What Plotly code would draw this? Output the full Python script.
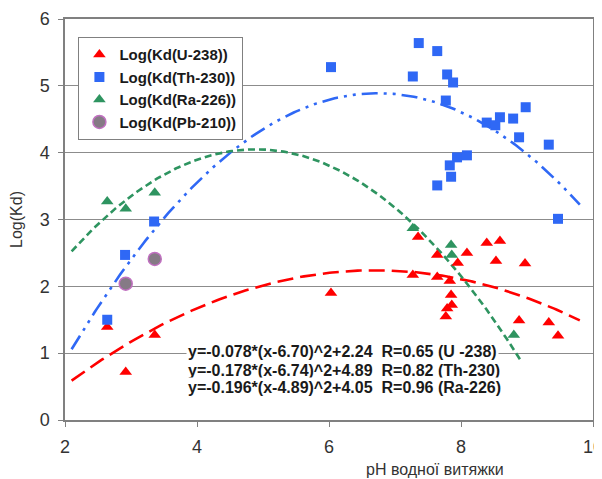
import numpy as np
import plotly.graph_objects as go

# --- data ---
u_x = [2.64, 2.92, 3.36, 6.03, 7.35, 8.39, 8.59, 7.64, 8.09, 7.95, 8.53, 8.97, 7.27, 7.64, 7.83, 7.85, 7.86, 7.79, 7.77, 8.88, 9.33, 9.47]
u_y = [1.39, 0.72, 1.27, 1.90, 2.74, 2.65, 2.68, 2.47, 2.50, 2.35, 2.38, 2.34, 2.17, 2.14, 2.08, 1.87, 1.72, 1.67, 1.55, 1.49, 1.46, 1.26]

th_x = [2.64, 2.91, 3.35, 6.03, 7.36, 7.64, 7.27, 7.79, 7.88, 7.77, 8.39, 8.52, 8.59, 8.79, 8.98, 8.88, 9.33, 9.47, 7.94, 8.09, 7.83, 7.85, 7.64]
th_y = [1.50, 2.47, 2.97, 5.28, 5.64, 5.52, 5.14, 5.17, 5.05, 4.78, 4.45, 4.41, 4.53, 4.51, 4.68, 4.23, 4.12, 3.01, 3.93, 3.96, 3.81, 3.64, 3.51]

ra_x = [2.64, 2.92, 3.36, 7.27, 7.85, 7.86, 8.80]
ra_y = [3.27, 3.16, 3.40, 2.87, 2.62, 2.47, 1.27]

pb_x = [2.92, 3.36]
pb_y = [2.04, 2.41]

# trendline coefficients shown on the chart: y = a*(x-h)^2 + k
u_fit = dict(a=-0.078, h=6.70, k=2.24, x0=2.1, x1=9.8)
th_fit = dict(a=-0.178, h=6.74, k=4.89, x0=2.1, x1=9.8)
ra_fit = dict(a=-0.196, h=4.89, k=4.05, x0=2.1, x1=8.9)

eq_lines = [
    "y=-0.078*(x-6.70)^2+2.24\u00a0\u00a0R=0.65 (U -238)",
    "y=-0.178*(x-6.74)^2+4.89\u00a0\u00a0R=0.82 (Th-230)",
    "y=-0.196*(x-4.89)^2+4.05\u00a0\u00a0R=0.96 (Ra-226)",
]
eq_y = [1.02, 0.74, 0.48]

x_ticks = [2, 4, 6, 8, 10]
y_ticks = [0, 1, 2, 3, 4, 5, 6]

RED = "#ff0000"
BLUE = "#2f68f5"
GREEN = "#2e9460"
PB_FILL = "#857a85"
PB_LINE = "#c070c0"
FONT = "Liberation Sans, Arial"


def curve(f):
    xs = np.linspace(f["x0"], f["x1"], 200)
    return xs, f["a"] * (xs - f["h"]) ** 2 + f["k"]


fig = go.Figure()

for f, col, dash in [
    (u_fit, RED, "16px,7px"),
    (th_fit, BLUE, "16px,6px,3px,6px,3px,6px"),
    (ra_fit, GREEN, "7px,4px"),
]:
    xs, ys = curve(f)
    fig.add_trace(go.Scatter(x=xs, y=ys, mode="lines", showlegend=False,
                             line=dict(color=col, width=2.6, dash=dash),
                             hoverinfo="skip"))

fig.add_trace(go.Scatter(x=u_x, y=u_y, mode="markers", name="Log(Kd(U-238))",
                         marker=dict(symbol="triangle-up", size=11, color=RED)))
fig.add_trace(go.Scatter(x=th_x, y=th_y, mode="markers", name="Log(Kd(Th-230))",
                         marker=dict(symbol="square", size=10, color=BLUE)))
fig.add_trace(go.Scatter(x=ra_x, y=ra_y, mode="markers", name="Log(Kd(Ra-226))",
                         marker=dict(symbol="triangle-up", size=11, color=GREEN)))
fig.add_trace(go.Scatter(x=pb_x, y=pb_y, mode="markers", name="Log(Kd(Pb-210))",
                         marker=dict(symbol="circle", size=13, color=PB_FILL,
                                     line=dict(color=PB_LINE, width=1.5))))

for txt, yy in zip(eq_lines, eq_y):
    fig.add_annotation(
        x=3.83, y=yy, xref="x", yref="y", xanchor="left", yanchor="middle",
        text=txt, showarrow=False, align="left",
        bgcolor="white", borderpad=1,
        font=dict(family=FONT, size=16, color="#1a1a1a", weight="bold"),
    )

# x-axis title (sits right of centre in the reference)
fig.add_annotation(
    x=0.70, y=0, xref="paper", yref="paper", yshift=-49,
    xanchor="center", yanchor="middle", showarrow=False,
    text="pH водної витяжки",
    font=dict(family=FONT, size=16, color="#333333"),
)

axis_common = dict(
    showline=True, linecolor="#808080", linewidth=1.5, mirror=True,
    ticks="outside", ticklen=5, tickcolor="#808080",
    tickfont=dict(family=FONT, size=18, color="#333333"),
    zeroline=False, automargin=False,
)

fig.update_xaxes(range=[2, 10], tickvals=x_ticks, showgrid=False,
                 ticklabelstandoff=5, **axis_common)
fig.update_yaxes(range=[0, 6], tickvals=y_ticks, showgrid=True,
                 gridcolor="#8c8c8c", gridwidth=1, ticklabelstandoff=5,
                 title=dict(text="Log(Kd)", standoff=16,
                            font=dict(family=FONT, size=16, color="#333333")),
                 **axis_common)

fig.update_layout(
    width=602, height=479,
    margin=dict(l=57, r=17, t=11, b=67),
    paper_bgcolor="white", plot_bgcolor="white",
    legend=dict(x=0.025, y=0.955, xanchor="left", yanchor="top",
                bgcolor="white", bordercolor="#808080", borderwidth=1.2,
                font=dict(family=FONT, size=15, color="#1a1a1a", weight="bold"),
                itemwidth=30, tracegroupgap=0),
)

fig.write_html("out.html")
